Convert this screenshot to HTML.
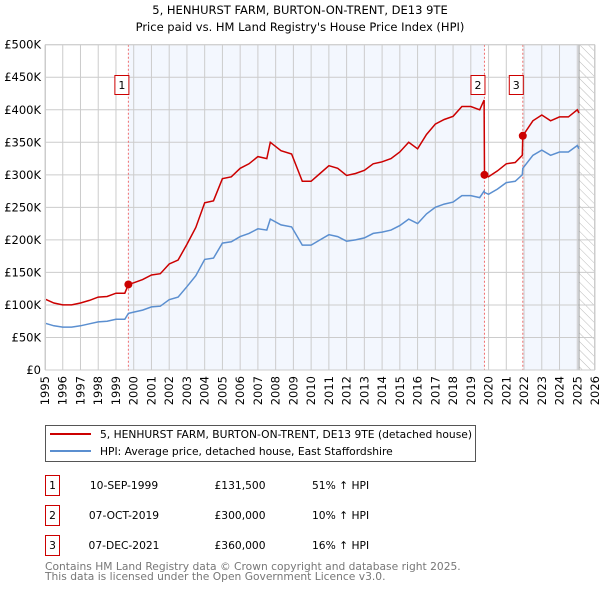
<!DOCTYPE html>
<html><head><meta charset="utf-8"><style>
body{margin:0;background:#fff;font-family:"DejaVu Sans","Liberation Sans",sans-serif;}
svg text{font-family:"DejaVu Sans","Liberation Sans",sans-serif;}
</style></head><body>
<svg id="chart" width="600" height="590" xmlns="http://www.w3.org/2000/svg">
<defs><pattern id="hatch" width="6" height="6" patternUnits="userSpaceOnUse" patternTransform="rotate(-45)"><line x1="0" y1="0" x2="0" y2="6" stroke="#bbb" stroke-width="1"/></pattern></defs>
<text x="300" y="14" font-size="11.5" text-anchor="middle">5, HENHURST FARM, BURTON-ON-TRENT, DE13 9TE</text>
<text x="300" y="31" font-size="11.5" text-anchor="middle">Price paid vs. HM Land Registry's House Price Index (HPI)</text>
<g id="plot"></g>
<rect x="45.5" y="425.5" width="430" height="36" fill="#fff" stroke="#555"/>
<line x1="50" y1="434" x2="91" y2="434" stroke="#cc0000" stroke-width="2"/>
<text x="100" y="438" font-size="10.7">5, HENHURST FARM, BURTON-ON-TRENT, DE13 9TE (detached house)</text>
<line x1="50" y1="451" x2="91" y2="451" stroke="#5b8fd0" stroke-width="2"/>
<text x="100" y="455" font-size="10.7">HPI: Average price, detached house, East Staffordshire</text>
<g font-size="10.7">
<rect x="45.5" y="475.5" width="14" height="20" fill="#fff" stroke="#cc0000"/><text x="52.5" y="489" text-anchor="middle">1</text>
<text x="124" y="489" text-anchor="middle">10-SEP-1999</text>
<text x="240" y="489" text-anchor="middle">£131,500</text>
<text x="312" y="489">51% ↑ HPI</text>
<rect x="45.5" y="505.5" width="14" height="20" fill="#fff" stroke="#cc0000"/><text x="52.5" y="519" text-anchor="middle">2</text>
<text x="124" y="519" text-anchor="middle">07-OCT-2019</text>
<text x="240" y="519" text-anchor="middle">£300,000</text>
<text x="312" y="519">10% ↑ HPI</text>
<rect x="45.5" y="535.5" width="14" height="20" fill="#fff" stroke="#cc0000"/><text x="52.5" y="549" text-anchor="middle">3</text>
<text x="124" y="549" text-anchor="middle">07-DEC-2021</text>
<text x="240" y="549" text-anchor="middle">£360,000</text>
<text x="312" y="549">16% ↑ HPI</text>
</g>
<text x="45" y="570" font-size="10.7" fill="#777">Contains HM Land Registry data © Crown copyright and database right 2025.</text>
<text x="45" y="580" font-size="10.7" fill="#777">This data is licensed under the Open Government Licence v3.0.</text>
</svg>
<script>
const years=[1995,1995.5,1996,1996.5,1997,1997.5,1998,1998.5,1999,1999.5,1999.7,2000,2000.5,2001,2001.5,2002,2002.5,2003,2003.5,2004,2004.5,2005,2005.5,2006,2006.5,2007,2007.5,2007.7,2008.3,2008.9,2009.5,2010,2010.5,2011,2011.5,2012,2012.5,2013,2013.5,2014,2014.5,2015,2015.5,2016,2016.5,2017,2017.5,2018,2018.5,2019,2019.5,2019.75,2019.77,2020,2020.5,2021,2021.5,2021.9,2021.93,2022.5,2023,2023.5,2024,2024.5,2025,2025.1];
const hpiValues=[72,68,66,66,68,71,74,75,78,78,87,89,92,97,98,108,112,128,145,170,172,195,197,205,210,217,215,232,223,220,192,192,200,208,205,198,200,203,210,212,215,222,232,225,240,250,255,258,268,268,265,275,273,270,278,288,290,300,310,330,338,330,335,335,345,340];
const priceValues=[109,103,100,100,103,107,112,113,118,118,131.5,134,139,146,148,163,169,193,219,257,260,294,297,310,317,328,325,350,337,332,290,290,302,314,310,299,302,307,317,320,325,335,350,340,362,378,385,390,405,405,400,415,300,297,306,317,319,330,360,383,392,383,389,389,400,395];
const saleYears=[1999.7,2019.77,2021.93];
const salePrices=[131.5,300,360];
const saleLabels=["1","2","3"];
const yTicks=[0,50,100,150,200,250,300,350,400,450,500];
const yTickLabels=["£0","£50K","£100K","£150K","£200K","£250K","£300K","£350K","£400K","£450K","£500K"];
const xTicks=[1995,1996,1997,1998,1999,2000,2001,2002,2003,2004,2005,2006,2007,2008,2009,2010,2011,2012,2013,2014,2015,2016,2017,2018,2019,2020,2021,2022,2023,2024,2025,2026];

const L=45,R=595,T=44.7,B=370,x0=1995,x1=2026,yMax=500;
const X=v=>L+(v-x0)/(x1-x0)*(R-L);
const Y=v=>B-v/yMax*(B-T);
const NS="http://www.w3.org/2000/svg";
const g=document.getElementById('plot');
function mk(tag,attrs){const e=document.createElementNS(NS,tag);for(const k in attrs)e.setAttribute(k,attrs[k]);g.appendChild(e);return e;}
let e=mk('rect',{x:X(saleYears[0]),y:T,width:X(saleYears[1])-X(saleYears[0]),height:B-T,fill:'#eef3fd',opacity:0.7});


e=mk('rect',{x:X(saleYears[2]),y:T,width:X(2025.1)-X(saleYears[2]),height:B-T,fill:'#eef3fd',opacity:0.7});


e=mk('rect',{x:X(2025.1),y:T,width:R-X(2025.1),height:B-T,fill:'url(#hatch)'});


xTicks.forEach((t,i)=>{
 let l=mk('line',{x1:X(t),x2:X(t),y1:T,y2:B,stroke:'#ccc','stroke-width':1});
 
 
 let tx=mk('text',{transform:`translate(${X(t)+4},${B+6}) rotate(-90)`,'font-size':11.5,'text-anchor':'end'});
 tx.textContent=t;
 
 
});
yTicks.forEach((t,i)=>{
 let l=mk('line',{x1:L,x2:R,y1:Y(t),y2:Y(t),stroke:'#ccc','stroke-width':1});
 
 
 let tx=mk('text',{x:L-4,y:Y(t)+4,'font-size':11.5,'text-anchor':'end'});
 tx.textContent=yTickLabels[i];
 
 
});
e=mk('line',{x1:X(2025.1),x2:X(2025.1),y1:T,y2:B,stroke:'#999','stroke-width':1});


saleYears.forEach((s,i)=>{
 let l=mk('line',{x1:X(s),x2:X(s),y1:T,y2:B,stroke:'#f07070','stroke-width':1,'stroke-dasharray':'2,2'});
 
 
});
const path=(vals)=>years.map((y,i)=>(i?'L':'M')+X(y).toFixed(1)+','+Y(vals[i]).toFixed(1)).join('');
e=mk('path',{d:path(hpiValues),fill:'none',stroke:'#5b8fd0','stroke-width':1.5});


e=mk('path',{d:path(priceValues),fill:'none',stroke:'#cc0000','stroke-width':1.5});


saleYears.forEach((s,i)=>{
 let c=mk('circle',{cx:X(s),cy:Y(salePrices[i]),r:4,fill:'#cc0000'});
 
 
 let bx=X(s)-4-10;
 let r=mk('rect',{x:bx+0.5,y:75.5,width:14,height:19,fill:'#fff',stroke:'#cc0000'});
 
 
 let t=mk('text',{x:bx+7.5,y:89,'font-size':11,'text-anchor':'middle'});
 t.textContent=saleLabels[i];
 
 
});
e=mk('rect',{x:L+0.5,y:T,width:R-L-1,height:B-T,fill:'none',stroke:'#ccc'});


</script>
</body></html>
